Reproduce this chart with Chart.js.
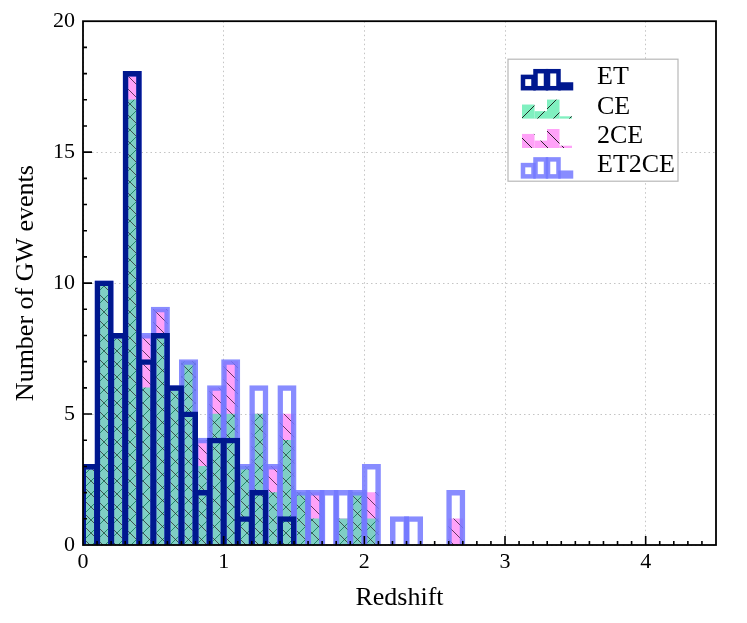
<!DOCTYPE html>
<html lang="en">
<head>
<meta charset="UTF-8">
<title>Number of GW events vs redshift</title>
<script src="https://cdn.jsdelivr.net/npm/chart.js@4.4.1/dist/chart.umd.min.js"></script>
<style>
  html, body { margin: 0; padding: 0; background: #fff; }
  #wrap { width: 747px; height: 623px; position: relative; }
</style>
</head>
<body>
<div id="wrap"><canvas id="hist"></canvas></div>
<script>
// histogram bins, width 0.1 in redshift
const binCenters = [0.05, 0.15, 0.25, 0.35, 0.45, 0.55, 0.65, 0.75, 0.85, 0.95,
                    1.05, 1.15, 1.25, 1.35, 1.45, 1.55, 1.65, 1.75, 1.85, 1.95,
                    2.05, 2.15, 2.25, 2.35, 2.45, 2.55, 2.65];

const etCounts    = [3, 10, 8, 18, 7, 8, 6, 5, 2, 4, 4, 1, 2, 0, 1, 0, 0, 0, 0, 0, 0, 0, 0, 0, 0, 0, 0];
const ceCounts    = [3, 10, 8, 17, 6, 8, 6, 7, 3, 5, 5, 3, 5, 2, 4, 2, 1, 0, 1, 2, 1, 0, 0, 0, 0, 0, 0];
const ce2Counts   = [3, 10, 8, 18, 8, 9, 6, 7, 4, 6, 7, 3, 5, 3, 5, 2, 2, 0, 1, 2, 2, 0, 0, 0, 0, 0, 1];
const et2ceCounts = [3, 10, 8, 18, 8, 9, 6, 7, 4, 6, 7, 3, 6, 3, 6, 2, 2, 2, 2, 2, 3, 0, 1, 1, 0, 0, 2];

const xTicks = [0, 1, 2, 3, 4];
const yTicks = [0, 5, 10, 15, 20];

const SERIF = '"Liberation Serif", "Times New Roman", serif';
const ctx = document.getElementById('hist').getContext('2d');

// hatched fill, like matplotlib hatch='/' or '\\'
function hatch(bg, lines, size) {
    const c = document.createElement('canvas');
    c.width = size;
    c.height = size;
    const g = c.getContext('2d');
    g.fillStyle = bg;
    g.fillRect(0, 0, size, size);
    g.lineWidth = 1;
    lines.forEach(([dir, color]) => {
        g.strokeStyle = color;
        g.beginPath();
        for (let k = -size; k <= size; k += size) {
            if (dir === '/') {
                g.moveTo(k, size);
                g.lineTo(k + size, 0);
            } else {
                g.moveTo(k, 0);
                g.lineTo(k + size, size);
            }
        }
        g.stroke();
    });
    return ctx.createPattern(c, 'repeat');
}

const ceFill = hatch('rgb(127,207,196)', [['/', 'rgba(25,125,95,0.9)'], ['\\', 'rgba(40,40,40,0.75)']], 13);
const ce2Fill = hatch('rgb(255,162,248)', [['\\', 'rgba(60,30,60,0.8)']], 13);
const ceLegendFill = hatch('rgb(128,240,192)', [['/', 'rgba(20,20,20,0.9)']], 16);
const ce2LegendFill = hatch('rgb(255,162,248)', [['\\', 'rgba(20,20,20,0.9)']], 16);

function toPoints(counts) {
    return counts.map((c, i) => ({ x: binCenters[i], y: c }));
}

const common = { grouped: false, barPercentage: 1, categoryPercentage: 1 };

const frameTicks = {
    id: 'frameTicks',
    afterDatasetsDraw(chart) {
        const { ctx, chartArea: ca, scales } = chart;
        ctx.save();
        ctx.strokeStyle = '#000';
        ctx.lineWidth = 1.8;
        ctx.strokeRect(ca.left, ca.top, ca.right - ca.left, ca.bottom - ca.top);
        ctx.lineWidth = 1.6;
        ctx.beginPath();
        for (let k = 1; k < 45; k++) {
            const px = scales.x.getPixelForValue(k / 10);
            const len = k % 10 === 0 ? 9 : 4;
            ctx.moveTo(px, ca.bottom);
            ctx.lineTo(px, ca.bottom - len);
        }
        for (let k = 1; k < 20; k++) {
            const py = scales.y.getPixelForValue(k);
            const len = k % 5 === 0 ? 9 : 4;
            ctx.moveTo(ca.left, py);
            ctx.lineTo(ca.left + len, py);
        }
        ctx.stroke();
        ctx.restore();
    }
};

const boxLegend = {
    id: 'boxLegend',
    afterDraw(chart) {
        const { ctx, chartArea: ca } = chart;
        const left = ca.right - 208, top = ca.top + 38, w = 170, h = 122;
        ctx.save();
        ctx.fillStyle = '#fff';
        ctx.fillRect(left, top, w, h);
        ctx.strokeStyle = '#b8b8b8';
        ctx.lineWidth = 1.2;
        ctx.strokeRect(left, top, w, h);
        chart.data.datasets.forEach((ds, i) => {
            const base = top + 25 + i * 29.4;
            const x0 = left + 14, bw = 12.5, ih = 19, bottom = base + 5;
            const bars = ds.legendBars;
            bars.forEach((f, j) => {
                const bx = x0 + j * bw, by = bottom - f * ih;
                if (ds.legendFill) {
                    ctx.fillStyle = ds.legendFill;
                    ctx.fillRect(bx, by, bw, f * ih);
                } else {
                    ctx.strokeStyle = ds.borderColor;
                    ctx.lineWidth = 4.5;
                    ctx.strokeRect(bx + 1, by + 1, bw - 2, f * ih - 2);
                }
            });
            ctx.fillStyle = '#000';
            ctx.font = '26px ' + SERIF;
            ctx.textAlign = 'left';
            ctx.textBaseline = 'alphabetic';
            ctx.fillText(ds.label, left + 89, base);
        });
        ctx.restore();
    }
};

const gridStyle = { color: '#c4c4c4', lineWidth: 1, drawTicks: false, offset: false };
const borderStyle = { display: false, dash: [1.5, 3] };

new Chart(ctx, {
    type: 'bar',
    data: {
        datasets: [
            { ...common, label: 'ET', data: toPoints(etCounts), order: 0,
              backgroundColor: 'rgba(0,0,0,0)', borderColor: '#00188f',
              borderWidth: 0.5, inflateAmount: 2.5, borderSkipped: 'start',
              legendBars: [0.7, 1, 1, 0.3] },
            { ...common, label: 'CE', data: toPoints(ceCounts), order: 2,
              backgroundColor: ceFill, borderWidth: 0,
              legendFill: ceLegendFill, legendBars: [0.74, 0.39, 1, 0.12] },
            { ...common, label: '2CE', data: toPoints(ce2Counts), order: 3,
              backgroundColor: ce2Fill, borderWidth: 0,
              legendFill: ce2LegendFill, legendBars: [0.74, 0.39, 1, 0.12] },
            { ...common, label: 'ET2CE', data: toPoints(et2ceCounts), order: 1,
              backgroundColor: 'rgba(0,0,0,0)', borderColor: 'rgba(115,120,255,0.85)',
              borderWidth: 0.5, inflateAmount: 2.5, borderSkipped: 'start',
              legendBars: [0.7, 1, 1, 0.3] }
        ]
    },
    options: {
        responsive: true,
        maintainAspectRatio: false,
        animation: false,
        layout: { padding: { top: 19, right: 31, bottom: 0, left: 0 } },
        scales: {
            x: {
                type: 'linear',
                min: 0,
                max: 4.5,
                offset: false,
                grid: gridStyle,
                border: borderStyle,
                afterBuildTicks: s => { s.ticks = xTicks.map(v => ({ value: v })); },
                afterFit: s => { s.height = 78; },
                ticks: { padding: 4, color: '#000', font: { family: SERIF, size: 22 } },
                title: { display: true, text: 'Redshift', color: '#000',
                         font: { family: SERIF, size: 26 }, padding: { top: 0, bottom: 9 } }
            },
            y: {
                min: 0,
                max: 20,
                grid: gridStyle,
                border: borderStyle,
                afterBuildTicks: s => { s.ticks = yTicks.map(v => ({ value: v })); },
                afterFit: s => { s.width = 83; },
                ticks: { padding: 8, color: '#000', font: { family: SERIF, size: 22 } },
                title: { display: true, text: 'Number of GW events', color: '#000',
                         font: { family: SERIF, size: 26 }, padding: { top: 11, bottom: 0 } }
            }
        },
        plugins: {
            legend: { display: false },
            tooltip: { enabled: false }
        }
    },
    plugins: [frameTicks, boxLegend]
});
</script>
</body>
</html>
